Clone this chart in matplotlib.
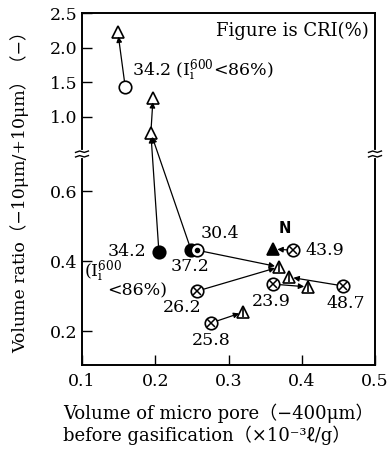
"""
Volume ratio vs. micro pore volume before gasification (broken y axis).
"""

import matplotlib
matplotlib.use('Agg')
import matplotlib.pyplot as plt
import numpy as np

plt.rcParams['font.family'] = ['DejaVu Serif', 'Noto Sans CJK JP', 'DejaVu Sans']
plt.rcParams['mathtext.fontset'] = 'custom'
plt.rcParams['mathtext.rm'] = 'DejaVu Serif'
plt.rcParams['mathtext.it'] = 'DejaVu Serif:italic'

# ── Data ─────────────────────────────────────────────────────────────────────
# before gasification (circles)
open_circ_x = [0.159]
open_circ_y = [1.433]
fill_circ_x = [0.205, 0.249]          # 34.2, 37.2
fill_circ_y = [0.426, 0.431]
dot_circ_x = [0.257]                  # 30.4
dot_circ_y = [0.431]
cross_x = [0.388, 0.361, 0.456, 0.257, 0.276]   # 43.9, 23.9, 48.7, 26.2, 25.8
cross_y = [0.431, 0.334, 0.329, 0.314, 0.223]

# after gasification (triangles)
tri_x = [0.149, 0.197, 0.194]
tri_y = [2.22, 1.274, 0.77]
bar_tri_x = [0.369, 0.383, 0.409, 0.320]
bar_tri_y = [0.383, 0.354, 0.326, 0.254]
n_tri_x = [0.361]
n_tri_y = [0.434]

# arrows: start -> end
arrow_x0 = [0.159, 0.205, 0.249, 0.194, 0.257, 0.388, 0.361, 0.456, 0.257, 0.276]
arrow_y0 = [1.433, 0.426, 0.431, 0.77, 0.431, 0.431, 0.334, 0.329, 0.314, 0.223]
arrow_x1 = [0.149, 0.194, 0.194, 0.197, 0.369, 0.361, 0.409, 0.383, 0.369, 0.320]
arrow_y1 = [2.22, 0.77, 0.77, 1.274, 0.383, 0.434, 0.326, 0.354, 0.383, 0.254]

# CRI labels
cri_text = ['30.4', '37.2', '34.2', '43.9', '23.9', '48.7', '26.2', '25.8']
cri_x = [0.288, 0.247, 0.161, 0.432, 0.359, 0.460, 0.237, 0.276]
cri_y = [0.480, 0.383, 0.426, 0.431, 0.283, 0.280, 0.266, 0.174]

x_ticks = [0.1, 0.2, 0.3, 0.4, 0.5]
y_ticks = [0.2, 0.4, 0.6, 1.0, 1.5, 2.0, 2.5]

# ── Broken y scale: lower part linear, upper part compressed ─────────────────
Y_JOIN = 0.765
B = 0.198
A = Y_JOIN * (1 - B)


def fwd(y):
    y = np.asarray(y, dtype=float)
    return np.where(y < Y_JOIN, y, A + B * y)


def inv(v):
    v = np.asarray(v, dtype=float)
    return np.where(v < Y_JOIN, v, (v - A) / B)


fig = plt.figure(figsize=(3.88, 4.49), dpi=100)
ax = fig.add_axes([82/388, 1 - 365/449, 293/388, 352/449])
ax.set_yscale('function', functions=(fwd, inv))
ax.set_xlim(0.1, 0.5)
ax.set_ylim(0.103, 2.5)

for a_x0, a_y0, a_x1, a_y1 in zip(arrow_x0, arrow_y0, arrow_x1, arrow_y1):
    ax.annotate('', xy=(a_x1, a_y1), xytext=(a_x0, a_y0),
                arrowprops=dict(arrowstyle='-|>', color='k', lw=0.9,
                                mutation_scale=8, shrinkA=4, shrinkB=3),
                zorder=3)

mk = dict(linestyle='none', ms=9, mec='k', mew=1.2)
ax.plot(open_circ_x, open_circ_y, 'o', mfc='white', zorder=4, **mk)
ax.plot(fill_circ_x, fill_circ_y, 'o', mfc='k', zorder=4, **mk)
ax.plot(dot_circ_x, dot_circ_y, 'o', mfc='white', zorder=5, **mk)
ax.plot(dot_circ_x, dot_circ_y, 'o', ms=3, color='k', zorder=6)
ax.plot(cross_x, cross_y, 'o', mfc='white', zorder=4, **mk)
ax.plot(cross_x, cross_y, 'x', ms=6.3, mec='k', mew=1.1, zorder=5)
ax.plot(tri_x, tri_y, '^', mfc='none', zorder=4, **mk)
ax.plot(bar_tri_x, bar_tri_y, '^', mfc='white', zorder=4, **mk)
ax.plot(bar_tri_x, bar_tri_y, '|', ms=7, mec='k', mew=1.2, zorder=5)
ax.plot(n_tri_x, n_tri_y, '^', mfc='k', zorder=4, **mk)

fs = 12.5
for t, tx, ty in zip(cri_text, cri_x, cri_y):
    ax.text(tx, ty, t, ha='center', va='center', fontsize=fs)
ax.text(0.168, 1.664, r'34.2 ($\mathrm{I}^{\mathrm{600}}_{\mathrm{i}}$<86%)',
        ha='left', va='center', fontsize=fs)
ax.text(0.103, 0.369, r'($\mathrm{I}^{\mathrm{600}}_{\mathrm{i}}$',
        ha='left', va='center', fontsize=fs)
ax.text(0.134, 0.314, '<86%)', ha='left', va='center', fontsize=fs)
ax.text(0.377, 0.494, 'N', ha='center', va='center', fontsize=10.5,
        family='DejaVu Sans', fontweight='bold')
ax.text(0.978, 0.949, 'Figure is CRI(%)', transform=ax.transAxes,
        ha='right', va='center', fontsize=13)

ax.set_xticks(x_ticks)
ax.set_xticklabels([f'{v:.1f}' for v in x_ticks])
ax.set_yticks(y_ticks)
ax.set_yticklabels([f'{v:.1f}' for v in y_ticks])
ax.minorticks_off()
ax.tick_params(direction='in', length=7, width=1, labelsize=12.5)
ax.tick_params(axis='x', pad=6)
ax.tick_params(axis='y', pad=3)
for s in ax.spines.values():
    s.set_linewidth(1.4)

# break marks on both spines
fb = (365 - 154) / 352
for xs in (0, 1):
    ax.plot([xs, xs], [fb - 0.007, fb + 0.007], transform=ax.transAxes,
            color='white', lw=3, clip_on=False, zorder=10)
    for dy in (-0.0065, 0.0065):
        ax.plot([xs - 0.022, xs - 0.008, xs + 0.008, xs + 0.022],
                [fb + dy - 0.002, fb + dy + 0.002, fb + dy - 0.002, fb + dy + 0.002],
                transform=ax.transAxes, color='k', lw=1, clip_on=False, zorder=11)

fig.text(63/388, 1 - 413/449, 'Volume of micro pore（−400μm）',
         ha='left', va='center', fontsize=13)
fig.text(63/388, 1 - 435/449, 'before gasification（×10⁻³ℓ/g）',
         ha='left', va='center', fontsize=13)
fig.text(20/388, 1 - 188/449, 'Volume ratio（−10μm/+10μm）（−）',
         ha='center', va='center', rotation=90, fontsize=12.5)

fig.savefig('out.png', dpi=100)
